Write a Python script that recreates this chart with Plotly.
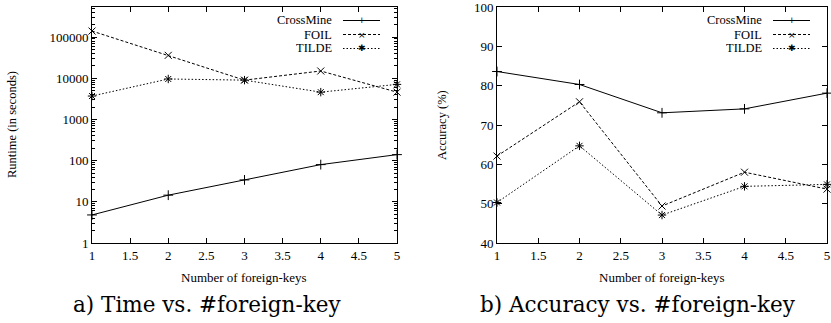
import plotly.graph_objects as go

# ---- data ----
foreign_keys = [1, 2, 3, 4, 5]
runtime_crossmine = [4.8, 14.5, 34, 80, 140]
runtime_foil = [140000, 36000, 9000, 15000, 4600]
runtime_tilde = [3700, 9600, 9000, 4600, 7100]
acc_crossmine = [83.6, 80.3, 73.1, 74.1, 78.1]
acc_foil = [62.1, 75.9, 49.4, 58.0, 53.7]
acc_tilde = [50.3, 64.7, 47.1, 54.4, 54.9]
series_names = ["CrossMine", "FOIL", "TILDE"]
y_log_ticks = [1, 10, 100, 1000, 10000, 100000]
y_acc_ticks = [40, 50, 60, 70, 80, 90, 100]

FONT = "Liberation Serif, Times New Roman, serif"
CAP_FONT = "DejaVu Serif, serif"
styles = [
    dict(dash="solid", symbol="cross-thin", glyph="+"),
    dict(dash="3px,2px", symbol="x-thin", glyph="×"),
    dict(dash="1.5px,2px", symbol="asterisk-open", glyph="✱"),
]

fig = go.Figure()
panels = [
    ("x", "y", [runtime_crossmine, runtime_foil, runtime_tilde]),
    ("x2", "y2", [acc_crossmine, acc_foil, acc_tilde]),
]
for xa, ya, sets in panels:
    for name, vals, st in zip(series_names, sets, styles):
        fig.add_trace(go.Scatter(
            x=foreign_keys, y=vals, name=name, xaxis=xa, yaxis=ya,
            mode="lines+markers", showlegend=False, cliponaxis=False,
            hoverinfo="skip",
            line=dict(color="black", width=1, dash=st["dash"]),
            marker=dict(symbol=st["symbol"], size=7, color="black",
                        line=dict(color="black", width=1)),
        ))

ybot, ytop = 1 - 243 / 323, 1 - 7 / 323
common_x = dict(range=[1, 5], dtick=0.5, tick0=1, ticks="inside", ticklen=5,
                showline=True, mirror="ticks", linecolor="black", linewidth=1,
                tickcolor="black", showgrid=False, zeroline=False,
                automargin=False, ticklabeloverflow="allow",
                tickfont=dict(family=FONT, size=13, color="black"))
common_y = dict(ticks="inside", ticklen=5, showline=True, mirror="ticks",
                linecolor="black", linewidth=1, tickcolor="black",
                showgrid=False, zeroline=False, automargin=False,
                ticklabeloverflow="allow",
                tickfont=dict(family=FONT, size=13, color="black"))

fig.update_layout(
    width=831, height=323, margin=dict(l=0, r=0, t=0, b=0, autoexpand=False),
    plot_bgcolor="white", paper_bgcolor="white", showlegend=False,
    xaxis=dict(domain=[92 / 831, 397 / 831], anchor="y", **common_x),
    yaxis=dict(domain=[ybot, ytop], anchor="x", type="log",
               range=[0, 5.73], tickvals=y_log_ticks,
               ticktext=[str(v) for v in y_log_ticks],
               minor=dict(ticks="inside", ticklen=3, tickcolor="black",
                          dtick="D1", showgrid=False),
               **common_y),
    xaxis2=dict(domain=[497 / 831, 827 / 831], anchor="y2", **common_x),
    yaxis2=dict(domain=[ybot, ytop], anchor="x2", range=[40, 100],
                tickvals=y_acc_ticks, **common_y),
)

ann = [
    dict(text="Number of foreign-keys", x=244, y=277, size=13),
    dict(text="Number of foreign-keys", x=662, y=277, size=13),
    dict(text="Runtime (in seconds)", x=12, y=125, textangle=-90, size=12.5),
    dict(text="Accuracy (%)", x=442, y=125, textangle=-90, size=12.5),
]
annotations = []
for a in ann:
    annotations.append(dict(text=a["text"], x=a["x"] / 831, y=1 - a["y"] / 323,
                            xref="paper", yref="paper", showarrow=False,
                            textangle=a.get("textangle", 0),
                            xanchor="center", yanchor="middle",
                            font=dict(family=FONT, size=a["size"], color="black")))
for txt, cx in [("a) Time vs. #foreign-key", 207), ("b) Accuracy vs. #foreign-key", 638)]:
    annotations.append(dict(text=txt, x=cx / 831, y=1 - 304 / 323, xref="paper", yref="paper",
                            showarrow=False, xanchor="center", yanchor="middle",
                            font=dict(family=CAP_FONT, size=21.5, color="black")))

# gnuplot-style legends (text then line sample)
shapes = []
for text_right, samp_l, samp_r in [(333, 343, 380), (763, 773, 810)]:
    for i, (name, st) in enumerate(zip(series_names, styles)):
        yy = 1 - (20.5 + i * 14) / 323
        annotations.append(dict(text=name, x=text_right / 831, y=yy, xref="paper", yref="paper",
                                showarrow=False, xanchor="right", yanchor="middle",
                                height=12, valign="middle", borderpad=0,
                                font=dict(family=FONT, size=12.5, color="black")))
        shapes.append(dict(type="line", xref="paper", yref="paper",
                           x0=samp_l / 831, x1=samp_r / 831, y0=yy, y1=yy,
                           line=dict(color="black", width=1, dash=st["dash"])))
        annotations.append(dict(text=st["glyph"], x=(samp_l + samp_r) / 2 / 831, y=yy,
                                xref="paper", yref="paper", showarrow=False,
                                xanchor="center", yanchor="middle", height=12,
                                borderpad=0,
                                font=dict(family="DejaVu Sans", size=9, color="black")))

fig.update_layout(annotations=annotations, shapes=shapes)
fig.write_html("out.html", config={"displayModeBar": False},
               post_script="document.body.style.margin='0';document.body.style.padding='0';")
